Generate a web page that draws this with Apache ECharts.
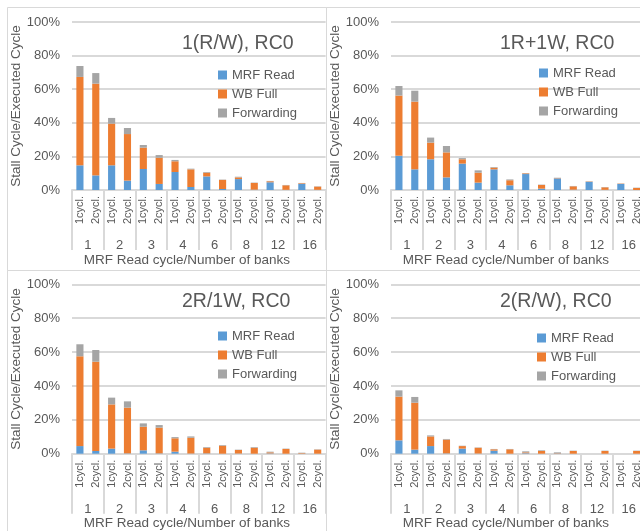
<!DOCTYPE html>
<html>
<head>
<meta charset="utf-8">
<script src="https://cdn.jsdelivr.net/npm/echarts@6/dist/echarts.min.js"></script>
<style>html,body{margin:0;padding:0;background:#fff;}#c{width:640px;height:531px;}</style>
</head>
<body>
<div id="c"></div>
<script>
// ---- data ----
const groupLabels = ['1', '2', '3', '4', '6', '8', '12', '16'];
const cycleLabels = ['1cycl.', '2cycl.', '1cycl.', '2cycl.', '1cycl.', '2cycl.', '1cycl.', '2cycl.',
                     '1cycl.', '2cycl.', '1cycl.', '2cycl.', '1cycl.', '2cycl.', '1cycl.', '2cycl.'];
const panelTitles = ['1(R/W), RC0', '1R+1W, RC0', '2R/1W, RC0', '2(R/W), RC0'];
const seriesNames = ['MRF Read', 'WB Full', 'Forwarding'];
const yTicks = [0, 20, 40, 60, 80, 100];

// segment heights in % (stacked)
const p1MrfRead   = [14.7, 8.7, 14.7, 5.6, 12.5, 3.6, 10.7, 1.8, 8.1, 0.6, 6.5, 0.2, 4.6, 0.1, 3.6, 0.1];
const p1WbFull    = [52.6, 54.6, 24.8, 27.7, 12.7, 15.6, 6.4, 10.5, 2.2, 5.4, 1.0, 4.0, 0.6, 2.7, 0.4, 1.9];
const p1Forward   = [6.5, 6.3, 3.4, 3.6, 1.6, 1.6, 0.8, 0.4, 0.4, 0.2, 0.4, 0.2, 0.2, 0.2, 0.2, 0.2];

const p2MrfRead   = [20.4, 12.3, 18.3, 7.5, 15.7, 4.4, 12.3, 2.8, 9.5, 0.8, 6.9, 0.2, 4.8, 0.1, 3.6, 0.0];
const p2WbFull    = [35.8, 40.3, 9.9, 14.9, 2.6, 5.9, 1.0, 3.0, 0.4, 2.2, 0.2, 2.0, 0.2, 1.5, 0.2, 1.2];
const p2Forward   = [5.7, 6.5, 3.0, 3.8, 0.7, 1.4, 0.4, 0.5, 0.2, 0.2, 0.2, 0.2, 0.2, 0.2, 0.1, 0.2];

const p3MrfRead   = [4.5, 1.6, 3.0, 0.2, 2.0, 0.2, 1.2, 0.1, 0.2, 0.0, 0.1, 0.0, 0.2, 0.0, 0.1, 0.0];
const p3WbFull    = [53.0, 52.7, 26.1, 27.0, 13.9, 15.2, 7.9, 9.3, 3.3, 4.7, 2.1, 3.5, 0.6, 2.8, 0.3, 2.4];
const p3Forward   = [7.1, 6.9, 4.0, 3.7, 2.0, 1.5, 0.7, 0.8, 0.4, 0.4, 0.2, 0.4, 0.4, 0.2, 0.2, 0.2];

const p4MrfRead   = [7.9, 2.4, 4.5, 0.2, 3.0, 0.1, 1.8, 0.0, 0.3, 0.0, 0.2, 0.0, 0.0, 0.0, 0.0, 0.0];
const p4WbFull    = [25.8, 27.7, 5.7, 8.1, 1.5, 3.4, 0.8, 2.6, 0.5, 1.6, 0.2, 1.6, 0.0, 1.6, 0.0, 1.6];
const p4Forward   = [3.7, 3.4, 0.6, 0.4, 0.2, 0.2, 0.2, 0.2, 0.6, 0.4, 0.4, 0.2, 0.0, 0.2, 0.0, 0.2];

const panelData = [
  [p1MrfRead, p1WbFull, p1Forward],
  [p2MrfRead, p2WbFull, p2Forward],
  [p3MrfRead, p3WbFull, p3Forward],
  [p4MrfRead, p4WbFull, p4Forward]
];

// ---- styling / layout ----
const FONT = 'Liberation Sans';
const TXT = '#595959';
const GRIDC = '#D9D9D9';
const colors = ['#5B9BD5', '#ED7D31', '#A5A5A5'];
const grids = [
  {left: 72, top: 22, width: 253.6, height: 168, outerBoundsMode: 'none', containLabel: false},
  {left: 391, top: 22, width: 253.6, height: 168, outerBoundsMode: 'none', containLabel: false},
  {left: 72, top: 284.3, width: 253.6, height: 169.4, outerBoundsMode: 'none', containLabel: false},
  {left: 391, top: 284.3, width: 253.6, height: 169.4, outerBoundsMode: 'none', containLabel: false}
];
const titlePos = [[182, 34], [500, 34], [182, 292], [500, 292]];
const legendPos = [[218, 68.5], [539, 66.5], [218, 329.5], [537, 331.5]];

const option = {
  animation: false,
  backgroundColor: '#fff',
  color: colors,
  grid: grids,
  title: panelTitles.map((t, i) => ({
    text: t, left: titlePos[i][0], top: titlePos[i][1], padding: 0,
    textStyle: {fontFamily: FONT, fontSize: 19.5, fontWeight: 'normal', color: TXT}
  })),
  legend: grids.map((g, i) => ({
    data: seriesNames, orient: 'vertical', left: legendPos[i][0], top: legendPos[i][1], padding: 0,
    icon: 'rect', itemWidth: 9, itemHeight: 9, itemGap: 6,
    textStyle: {fontFamily: FONT, fontSize: 13, color: TXT}
  })),
  xAxis: [],
  yAxis: [],
  series: [],
  graphic: [
    {type: 'rect', shape: {x: 7.5, y: 7.5, width: 319, height: 263}, style: {fill: 'none', stroke: GRIDC, lineWidth: 1}},
    {type: 'rect', shape: {x: 326.5, y: 7.5, width: 330, height: 263}, style: {fill: 'none', stroke: GRIDC, lineWidth: 1}},
    {type: 'rect', shape: {x: 7.5, y: 270.5, width: 319, height: 280}, style: {fill: 'none', stroke: GRIDC, lineWidth: 1}},
    {type: 'rect', shape: {x: 326.5, y: 270.5, width: 330, height: 280}, style: {fill: 'none', stroke: GRIDC, lineWidth: 1}}
  ]
};

grids.forEach((g, k) => {
  option.xAxis.push({
    type: 'category', gridIndex: k, data: cycleLabels, position: 'bottom',
    axisLine: {show: true, lineStyle: {color: GRIDC, width: 2}},
    axisTick: {show: false},
    axisLabel: {interval: 0, rotate: 90, margin: 6, fontFamily: FONT, fontSize: 11, color: TXT, hideOverlap: false}
  });
  option.xAxis.push({
    type: 'category', gridIndex: k, data: groupLabels, position: 'bottom',
    axisLine: {show: false},
    axisTick: {show: true, length: 60, lineStyle: {color: GRIDC, width: 2}},
    axisLabel: {interval: 0, margin: 49, fontFamily: FONT, fontSize: 13, color: TXT},
    name: 'MRF Read cycle/Number of banks', nameLocation: 'middle', nameGap: 61,
    nameTextStyle: {fontFamily: FONT, fontSize: 13.5, color: TXT, padding: [0, 24, 0, 0]}
  });
  option.yAxis.push({
    type: 'value', gridIndex: k, min: 0, max: 100, interval: 20,
    axisLine: {show: false}, axisTick: {show: false},
    splitLine: {lineStyle: {color: GRIDC, width: 2}},
    axisLabel: {formatter: '{value}%', margin: 12, fontFamily: FONT, fontSize: 13, color: TXT},
    name: 'Stall Cycle/Executed Cycle', nameLocation: 'middle', nameGap: 42, nameRotate: 90,
    nameTextStyle: {fontFamily: FONT, fontSize: 13.5, color: TXT}
  });
  seriesNames.forEach((n, s) => {
    option.series.push({
      type: 'bar', name: n, xAxisIndex: 2 * k, yAxisIndex: k, stack: 'p' + k,
      barWidth: '45%', data: panelData[k][s],
      itemStyle: {color: colors[s]}
    });
  });
});

const chart = echarts.init(document.getElementById('c'), null, {renderer: 'canvas'});
chart.setOption(option);
</script>
</body>
</html>
